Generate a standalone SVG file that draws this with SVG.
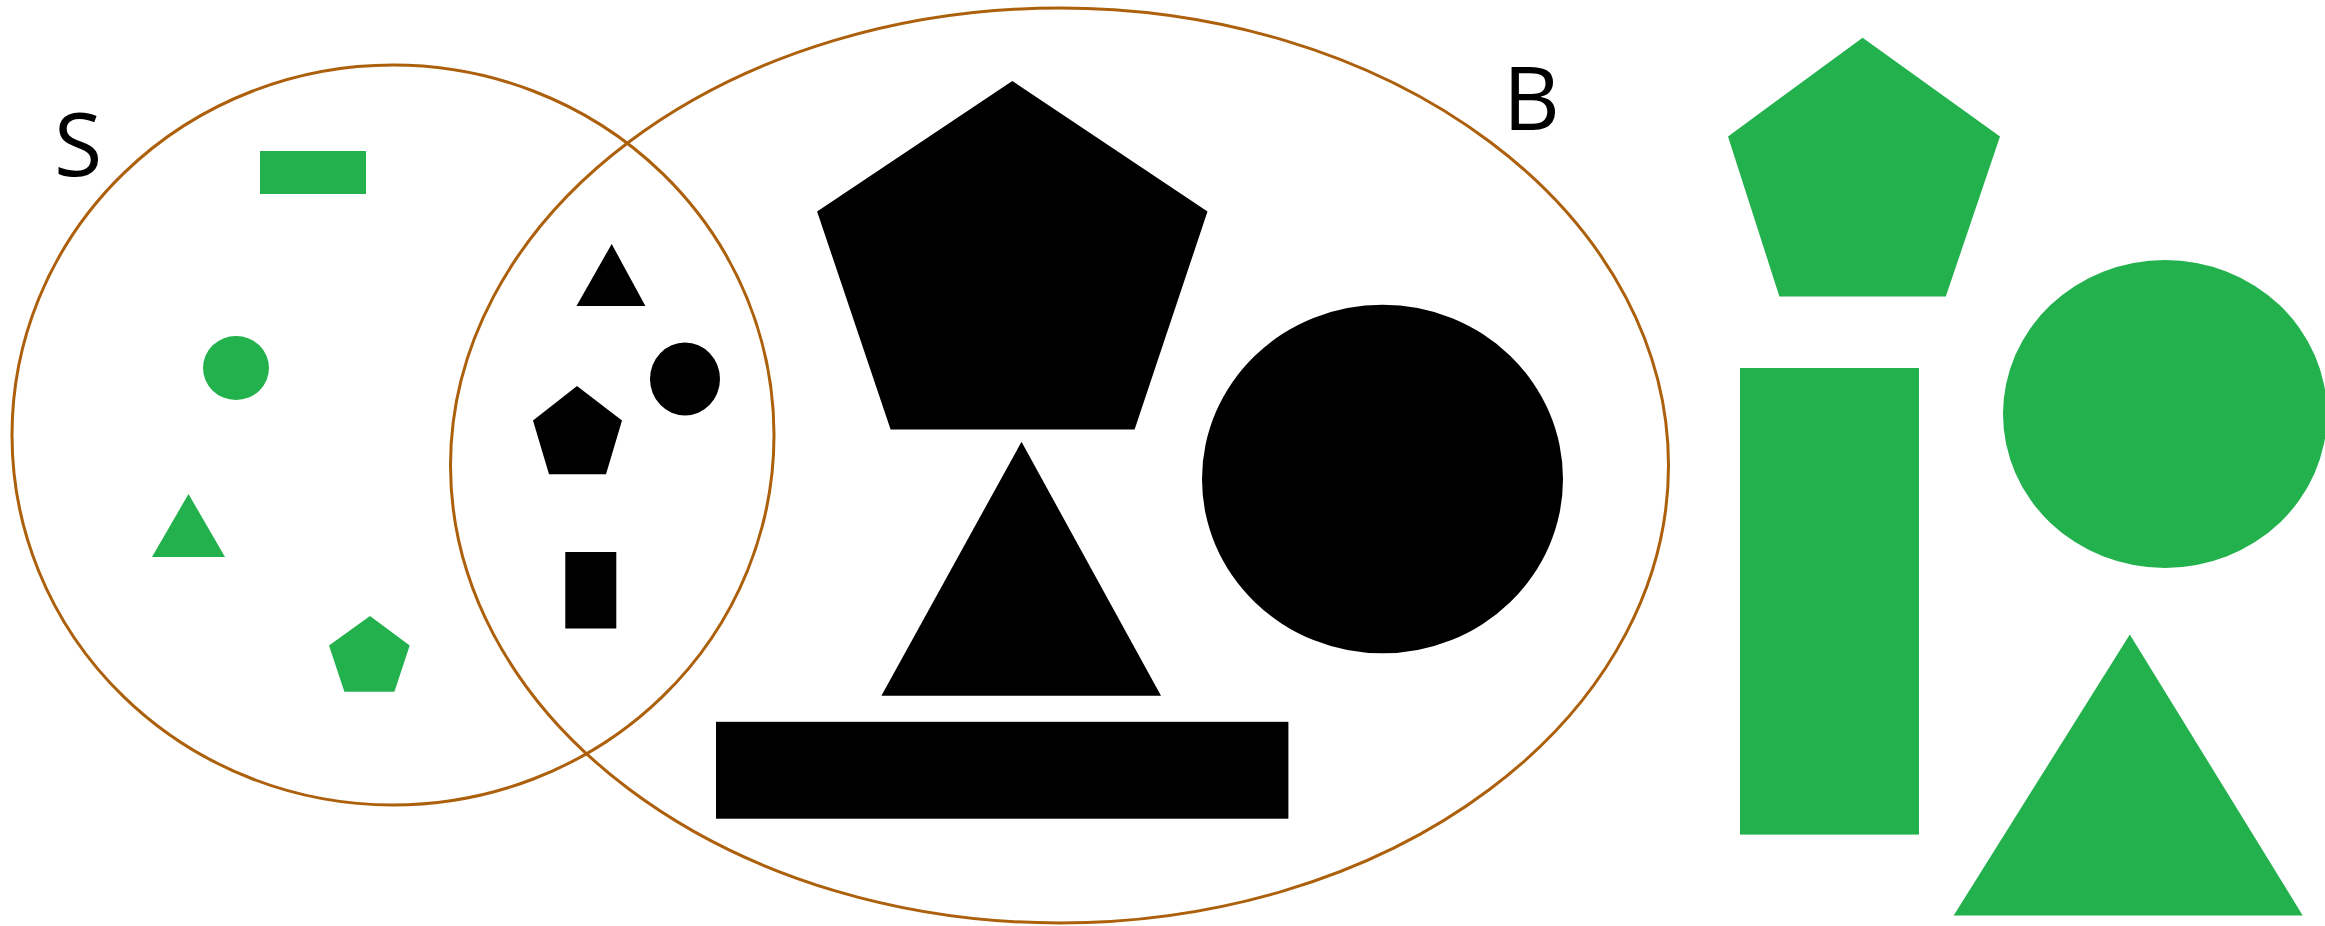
<svg xmlns="http://www.w3.org/2000/svg" width="2325" height="926" viewBox="0 0 2325 926">
<style>
.set{fill:none;stroke:#AD600C;stroke-width:3}
.g{fill:#22B14C}
.k{fill:#000000}
.lbl{font-family:"Open Sans","Noto Sans","Liberation Sans",sans-serif;font-size:88px;fill:#000}
</style>
<rect width="2325" height="926" fill="#fff"/>
<g id="setS">
<ellipse class="set" cx="393" cy="435" rx="381" ry="370"/>
<text class="lbl" x="54" y="176">S</text>
</g>
<g id="setB">
<ellipse class="set" cx="1059.5" cy="465.5" rx="609" ry="457.5"/>
<text class="lbl" x="1503" y="130">B</text>
</g>
<g id="s-green-rect"><rect class="g" x="260" y="151" width="106" height="43"/></g>
<g id="s-green-circle"><ellipse class="g" cx="236" cy="368" rx="33" ry="32"/></g>
<g id="s-green-triangle"><polygon class="g" points="188.5,494 152,557 225,557"/></g>
<g id="s-green-pentagon"><polygon class="g" points="370,616 409.7,645.6 394.4,691.7 344.4,691.7 329,645.6"/></g>
<g id="sb-black-triangle"><polygon class="k" points="611.7,244 645.4,306 576.5,306"/></g>
<g id="sb-black-circle"><ellipse class="k" cx="685" cy="379" rx="35" ry="36.5"/></g>
<g id="sb-black-pentagon"><polygon class="k" points="577,386 622,420.6 606,474.3 549,474.3 533,420.6"/></g>
<g id="sb-black-rect"><rect class="k" x="565.3" y="552" width="51" height="76.5"/></g>
<g id="b-black-pentagon"><polygon class="k" points="1012.3,81 1207.5,211.5 1134.6,429.4 890.6,429.4 817.1,211.5"/></g>
<g id="b-black-triangle"><polygon class="k" points="1021.5,441.8 1161,695.8 881.4,695.8"/></g>
<g id="b-black-circle"><ellipse class="k" cx="1382.5" cy="479" rx="180.5" ry="174.3"/></g>
<g id="b-black-rect"><rect class="k" x="716" y="721.8" width="572.4" height="96.9"/></g>
<g id="o-green-pentagon"><polygon class="g" points="1862.6,37.8 2000,136.5 1945.8,296.5 1779.4,296.5 1728,136.5"/></g>
<g id="o-green-rect"><rect class="g" x="1740" y="368" width="179" height="466.6"/></g>
<g id="o-green-ellipse"><ellipse class="g" cx="2165" cy="414" rx="162" ry="154"/></g>
<g id="o-green-triangle"><polygon class="g" points="2129.8,634.4 2302.7,915.5 1953.7,915.5"/></g>
<g id="connectors"></g>
</svg>
